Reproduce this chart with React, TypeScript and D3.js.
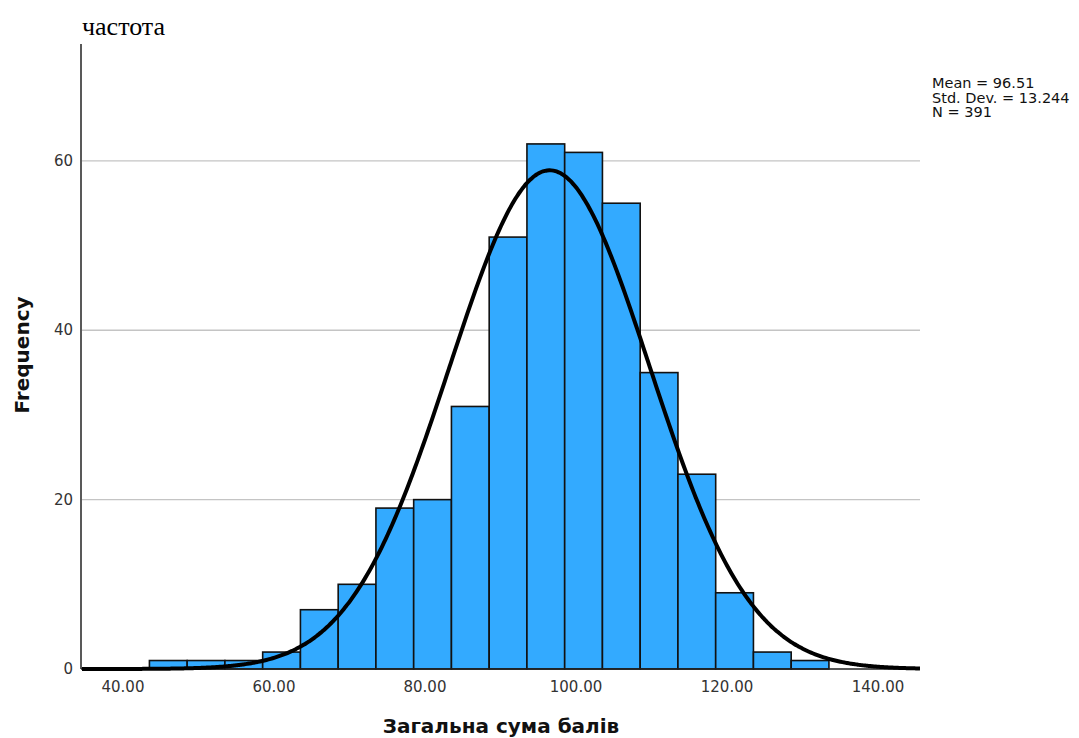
import React from "react";
import * as d3 from "d3";

const binStarts = [43.5, 48.5, 53.5, 58.5, 63.5, 68.5, 73.5, 78.5, 83.5, 88.5, 93.5, 98.5, 103.5, 108.5, 113.5, 118.5, 123.5, 128.5];
const counts = [1, 1, 1, 2, 7, 10, 19, 20, 31, 51, 62, 61, 55, 35, 23, 9, 2, 1];
const binWidth = 5;
const xTicks = [40, 60, 80, 100, 120, 140];
const yTicks = [0, 20, 40, 60];
const yGrid = [20, 40, 60];
const mean = 96.51;
const sd = 13.244;
const n = 391;
const statsLines = ["Mean = 96.51", "Std. Dev. = 13.244", "N = 391"];

const W = 1079;
const H = 738;

export default function App() {
  const x = d3.scaleLinear().domain([34.57, 145.56]).range([82, 920]);
  const y = d3.scaleLinear().domain([0, 73.8]).range([669, 44]);

  const curveXs = d3.range(0, 401).map((i) => 34.57 + (i / 400) * (145.56 - 34.57));
  const pdf = (v: number) =>
    (n * binWidth) / (sd * Math.sqrt(2 * Math.PI)) * Math.exp(-0.5 * ((v - mean) / sd) ** 2);
  const line = d3
    .line<number>()
    .x((d) => x(d))
    .y((d) => y(pdf(d)))
    .curve(d3.curveBasis);

  const sans = "'DejaVu Sans', Verdana, sans-serif";

  return (
    <svg
      width={W}
      height={H}
      style={{ position: "absolute", left: 0, top: 0, display: "block", background: "#fff" }}
    >
      <text x={82} y={35} fontFamily="'Liberation Serif', 'Times New Roman', serif" fontSize={26} fill="#000">
        частота
      </text>
      {yGrid.map((t) => (
        <line key={t} x1={x.range()[0]} x2={x.range()[1]} y1={y(t)} y2={y(t)} stroke="#c4c4c4" strokeWidth={1.3} />
      ))}
      {counts.map((c, i) => (
        <rect
          key={i}
          x={x(binStarts[i])}
          y={y(c)}
          width={x(binStarts[i] + binWidth) - x(binStarts[i])}
          height={y(0) - y(c)}
          fill="#33aaff"
          stroke="#111"
          strokeWidth={1.6}
        />
      ))}
      <line x1={81} x2={81} y1={44} y2={669} stroke="#222" strokeWidth={1.5} />
      <line x1={81} x2={920} y1={669} y2={669} stroke="#222" strokeWidth={1.5} />
      <path d={line(curveXs) || ""} fill="none" stroke="#000" strokeWidth={4} />
      {yTicks.map((t) => (
        <text key={t} x={73} y={y(t) + 5} textAnchor="end" fontFamily={sans} fontSize={15} fill="#333">
          {t}
        </text>
      ))}
      {xTicks.map((t) => (
        <text key={t} x={x(t)} y={692} textAnchor="middle" fontFamily={sans} fontSize={15} fill="#333">
          {t.toFixed(2)}
        </text>
      ))}
      <text
        transform={`translate(29, 355) rotate(-90)`}
        textAnchor="middle"
        fontFamily={sans}
        fontWeight="bold"
        fontSize={20}
        fill="#111"
      >
        Frequency
      </text>
      <text x={501} y={733} textAnchor="middle" fontFamily={sans} fontWeight="bold" fontSize={20} fill="#111">
        Загальна сума балів
      </text>
      {statsLines.map((s, i) => (
        <text key={s} x={932} y={88 + i * 14.5} fontFamily={sans} fontSize={14.5} fill="#111">
          {s}
        </text>
      ))}
    </svg>
  );
}
